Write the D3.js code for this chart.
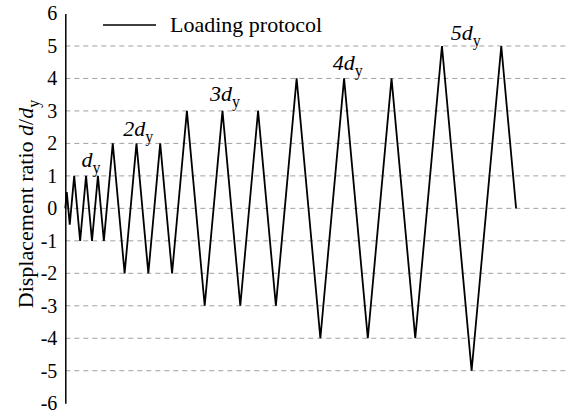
<!DOCTYPE html>
<html>
<head>
<meta charset="utf-8">
<script src="https://cdn.jsdelivr.net/npm/d3@7"></script>
<style>
  body { margin: 0; background: #fff; }
  svg { display: block; }
  text { font-family: "Liberation Serif", "Times New Roman", serif; fill: #000; }
</style>
</head>
<body>
<svg id="chart" width="569" height="413"></svg>
<script>
// loading history: time step (cumulative displacement) and displacement ratio
const steps = [0, 0.5, 1.5, 3, 5, 7, 9, 11, 13, 16, 20, 24, 28, 32, 36,
  41, 47, 53, 59, 65, 71, 78, 86, 94, 102, 110, 118, 127, 137, 147, 152]
const ratio = [0, 0.5, -0.5, 1, -1, 1, -1, 1, -1, 2, -2, 2, -2, 2, -2,
  3, -3, 3, -3, 3, -3, 4, -4, 4, -4, 4, -4, 5, -5, 5, 0]

const yTicks = [-6, -5, -4, -3, -2, -1, 0, 1, 2, 3, 4, 5, 6]
const gridValues = [-5, -4, -3, -2, -1, 0, 1, 2, 3, 4, 5]

// amplitude labels: multiplier, step, ratio
const ampLabels = [
  { k: '', t: 5.5, v: 1.26 },
  { k: '2', t: 19.5, v: 2.22 },
  { k: '3', t: 48.8, v: 3.3 },
  { k: '4', t: 90.2, v: 4.26 },
  { k: '5', t: 130, v: 5.18 }
]

const svg = d3.select('#chart')
const x = d3.scaleLinear().domain([0, 169.5]).range([65.3, 568])
const y = d3.scaleLinear().domain([-6, 6]).range([403.2, 13.5])

// dashed grid
svg.append('g')
  .selectAll('line')
  .data(gridValues)
  .join('line')
  .attr('x1', x(0))
  .attr('x2', x(169.5))
  .attr('y1', d => y(d))
  .attr('y2', d => y(d))
  .attr('stroke', '#a0a0a0')
  .attr('stroke-width', 1)
  .attr('stroke-dasharray', '5,4')

// y axis
const yAxis = d3.axisLeft(y)
  .tickValues(yTicks)
  .tickFormat(d => String(d))
  .tickSize(0)
  .tickPadding(8)
const ga = svg.append('g')
  .attr('transform', `translate(${x(0)},0)`)
  .call(yAxis)
ga.select('.domain').attr('stroke', '#000').attr('stroke-width', 1.5)
ga.selectAll('.tick text')
  .style('font-family', '"Liberation Serif", serif')
  .style('font-size', '20px')
  .attr('fill', '#000')

// loading curve
const pts = steps.map((t, i) => [t, ratio[i]])
const line = d3.line()
  .x(d => x(d[0]))
  .y(d => y(d[1]))
svg.append('path')
  .datum(pts)
  .attr('d', line)
  .attr('fill', 'none')
  .attr('stroke', '#000')
  .attr('stroke-width', 1.8)
  .attr('stroke-linejoin', 'miter')

// amplitude annotations
ampLabels.forEach(a => {
  const t = svg.append('text')
    .attr('x', x(a.t))
    .attr('y', y(a.v))
    .attr('font-size', 22)
  t.append('tspan').attr('font-style', 'italic').text(a.k + 'd')
  t.append('tspan').attr('font-size', 16).attr('dy', 6).text('y')
})

// y axis title
const title = svg.append('text')
  .attr('transform', 'translate(33,204) rotate(-90)')
  .attr('text-anchor', 'middle')
  .attr('font-size', 22)
title.append('tspan').text('Displacement ratio ')
title.append('tspan').attr('font-style', 'italic').text('d')
title.append('tspan').text('/')
title.append('tspan').attr('font-style', 'italic').text('d')
title.append('tspan').attr('font-size', 16).attr('dy', 6).text('y')

// legend
svg.append('line')
  .attr('x1', 103).attr('x2', 156)
  .attr('y1', 25).attr('y2', 25)
  .attr('stroke', '#000').attr('stroke-width', 1.5)
svg.append('text')
  .attr('x', 170).attr('y', 32)
  .attr('font-size', 22)
  .text('Loading protocol')
</script>
</body>
</html>
